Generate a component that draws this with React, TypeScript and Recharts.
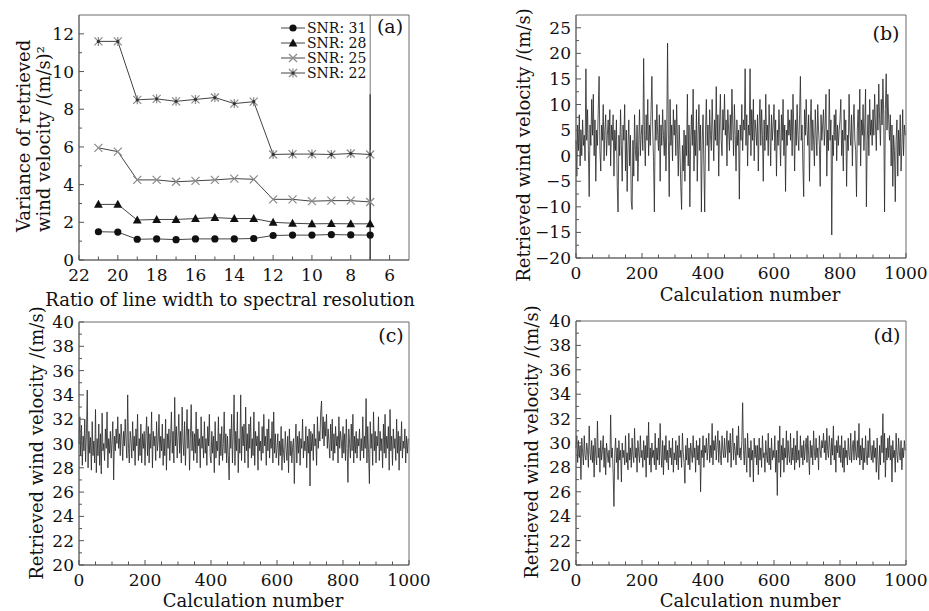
import React from 'react';
import { LineChart, Line, XAxis, YAxis, ReferenceArea, ReferenceLine } from 'recharts';

const FONT = '"DejaVu Serif", "Liberation Serif", serif';

// ---------- Panel (a) data ----------
const ratios = [21, 20, 19, 18, 17, 16, 15, 14, 13, 12, 11, 10, 9, 8, 7];
const snr31 = [1.5, 1.48, 1.1, 1.12, 1.08, 1.12, 1.12, 1.12, 1.14, 1.3, 1.32, 1.32, 1.35, 1.33, 1.32];
const snr28 = [2.95, 2.95, 2.12, 2.15, 2.15, 2.2, 2.25, 2.2, 2.2, 2.0, 1.95, 1.92, 1.93, 1.92, 1.92];
const snr25 = [5.95, 5.75, 4.25, 4.25, 4.15, 4.2, 4.25, 4.32, 4.28, 3.22, 3.22, 3.12, 3.15, 3.15, 3.08];
const snr22 = [11.6, 11.6, 8.5, 8.55, 8.42, 8.52, 8.62, 8.3, 8.4, 5.6, 5.62, 5.62, 5.6, 5.65, 5.6];
const legendLabels = ['SNR: 31', 'SNR: 28', 'SNR: 25', 'SNR: 22'];
const ratioTicks = [22, 21, 20, 19, 18, 17, 16, 15, 14, 13, 12, 11, 10, 9, 8, 7, 6];
const varianceTicks = [0, 1, 2, 3, 4, 5, 6, 7, 8, 9, 10, 11, 12];

// ---------- Panels (b)(c)(d): one value read every 2.5 calculation numbers ----------
const windB = [
  3, -4, 6, 1, 8, -2, 5, 0, 7, 2, 4, -1, 17, 3, 9, 1, -8, 6, 2, 11,
  4, 12, 0, 7, -5, 5, 2, 9, 15.5, 1, -3, 6, 3, 10, -1, 5, 8, 0, 4, 7,
  2, 9, -2, 6, 3, 8, -4, 5, 1, 7, -6, -11, 4, 0, 9, 2, -5, 6, 3, 10,
  -3, 5, -7, 2, 7, -2, 4, -9, -10.5, 3, -4, 8, 1, -1, 6, -5, 2, 9, 0, 4,
  6, 1, 19, 4, -2, 8, 3, 11, 0, 6, 2, 9, 15.5, 5, -1, -11, 7, 3, 10, 4,
  1, 8, -5, 6, 2, 9, 4, 0, 7, -3, 5, 22, 3, -8, 11, 2, 6, -1, 9, 4,
  7, 0, 10, 3, -4, 6, 1, -6, -10.5, 2, -3, 5, -5, 4, 0, 12, -2, 6, -10, 3,
  8, 2, 13, -3, 5, 0, 9, -5, 4, 10, 1, 6, -11, 3, 8, -2, -11, 5, 11, 2,
  6, -3, 9, 4, 1, 11, 5, -1, 7, 3, 13.5, 2, 8, -4, 6, 12, 3, 0, 9, 5,
  12, 4, 7, -2, 9, 5, 1, 8, 3, 13, 6, 0, 10, 4, -3, 7, 2, 5, -8.5, 6,
  3, 10, 1, 7, 5, 17, 2, 8, -2, 6, 4, 17, 0, 9, 3, 11, -1, 7, 5, 2,
  8, -3, 6, 11, 2, 9, 4, -5, 7, 1, 12, 3, 6, 0, 10, 5, -2, 8, 3, 6,
  10, 1, 7, -4, 5, 2, 9, 4, -2, 8, 3, 11, 0, 6, -7, 5, 2, 9, 4, 7,
  3, 9, 0, 12, 5, -3, 7, 2, 10, 4, 1, 8, 15.5, 3, 6, -2, -8, 9, 4, 11,
  5, 2, 8, -5, 6, 11, 1, 7, 3, -2, 9, 4, 0, 10, 5, 2, -6, 8, 3, 6,
  9, 2, 6, 12, -4, 5, 1, 13, 3, 7, -15.5, 4, 0, 8, 3, 9, -1, 6, 2, 5,
  7, 11, 0, 5, -3, 9, 3, 7, -6, 4, 1, 12, 5, 2, 8, -2, 6, 10, 3, 1,
  -8, 5, 9, 2, 13, -2, 7, 4, 10, 1, 6, 13, -10, 3, 8, 0, 11, 4, 7, 2,
  9, 4, 12, 6, 1, 10, 5, 14, 7, 2, 11, 6, 15, 8, -11, 9, 16, 5, 12, 7,
  3, 8, -2, 6, -6, 4, 1, -9, 3, 7, -4, 5, 0, 8, -3, 2, 9, 0, 6, 4,
];
const windC = [
  30, 32.2, 29, 31.5, 28.2, 30.6, 29.4, 32, 28.5, 30.8, 34.4, 28, 31, 29.2, 30.5, 27.8, 31.8, 29, 30.2, 28.4,
  32.8, 27.6, 30.4, 29, 31.6, 28.2, 30.8, 27.5, 32.5, 29.4, 30, 28.6, 31.2, 29.6, 32.6, 28, 30.4, 29.2, 31, 28.8,
  30.2, 31.8, 27, 30.6, 29.4, 31.2, 30, 32.2, 29.6, 30.8, 29, 31.6, 30.4, 28.6, 31, 29.8, 32, 30.2, 28.8, 34,
  29.6, 28.4, 31, 30.2, 28.8, 31.8, 29.4, 30.6, 28.2, 31.2, 29.8, 32.4, 28.6, 30.4, 29, 31.6, 28.4, 30.8, 29.6, 31,
  28.2, 30.6, 32.2, 29, 31.4, 28.4, 30.8, 29.6, 32.6, 28, 31, 29.8, 30.6, 28.6, 31.8, 29.4, 30.2, 32.4, 28.8, 30.6,
  29.4, 31.6, 28.2, 30.4, 29, 32, 27.8, 30.8, 29.6, 31.2, 28.6, 30.4, 32.6, 29.2, 31, 28.4, 33.8, 29.8, 31.4, 28.8,
  30.6, 32.4, 29.2, 31, 28.4, 33, 30.2, 29, 31.8, 28.2, 30.6, 32.8, 29.6, 31.2, 27.8, 30.4, 33.2, 29.4, 31, 28.6,
  30.8, 29.2, 32.6, 28.4, 31.2, 29.8, 30.4, 28, 32.2, 29.6, 30.6, 28.8, 31.8, 29.2, 30.4, 28.2, 31.4, 29.8, 32.4, 29,
  28.4, 31, 29.2, 30.6, 27.6, 31.8, 28.8, 30.2, 29.4, 32.2, 28.2, 30.8, 29, 31.4, 28.6, 30, 32.6, 29.2, 30.8, 28.4,
  30.6, 29, 27, 31.2, 29.6, 32.4, 28.4, 30.8, 34, 28.2, 31, 29.4, 32.6, 27.6, 30.4, 29.2, 34, 28.6, 31.4, 29.8,
  31.6, 28.4, 33, 29.4, 30.8, 28, 31.6, 29.6, 32.2, 28.8, 30.4, 29, 32.6, 28.2, 31, 29.8, 30.6, 27.8, 31.8, 29.4,
  30.2, 28.6, 31.4, 29.2, 32.4, 29.8, 30.6, 28.2, 31.2, 29.4, 32, 28.8, 30.4, 29.6, 31.8, 28.4, 32.6, 29.2, 30.8, 28.8,
  29.6, 30.8, 28.2, 30.2, 29, 31.4, 27.8, 30.4, 29.2, 28.4, 31, 29.6, 28.6, 30.6, 27.6, 31.2, 29, 30.2, 28.4, 29.8,
  30.4, 26.7, 30, 31.6, 28.4, 30.6, 29.2, 31, 28.2, 30.4, 29.6, 32, 28.8, 30.2, 29.4, 31.4, 28, 30.6, 29.2, 31.2,
  26.5, 31, 29.4, 30.8, 28.6, 31.6, 29.8, 30.4, 28.2, 32.2, 29.6, 31, 30.2, 32.6, 33.5, 30.4, 32.2, 29.8, 31.8, 30.6,
  32.4, 29.6, 31.2, 30, 28.8, 31.6, 29.4, 32, 28.6, 30.8, 29.2, 31.4, 29.8, 30.6, 28.4, 32.2, 29.6, 31, 30.2, 28.8,
  31.4, 29.2, 30.8, 28.6, 32, 29.6, 26.8, 31.2, 30, 28.8, 31.6, 29.4, 32.4, 28.4, 30.6, 29.2, 31, 28.8, 30.4, 29.8,
  31.2, 28.6, 30.4, 29.4, 32.2, 28.8, 30.6, 29.6, 33.7, 28.4, 31.4, 29.2, 26.7, 31.8, 29.6, 30.8, 28.2, 32.6, 29.4, 31,
  28.4, 30.6, 29.8, 32.2, 28.6, 31, 29.4, 30.4, 28, 31.6, 29.2, 32.4, 28.8, 30.6, 29.6, 31.4, 27.8, 32.8, 29.4, 30.6,
  28.2, 31.2, 29.6, 30.4, 28.6, 32, 29.2, 31, 27.8, 30.6, 29.4, 31.8, 28.8, 30.2, 29.6, 31.2, 28.4, 30.6, 29.2, 30.4,
];
const windD = [
  29.6, 30.6, 28.4, 30.2, 28.8, 29.8, 27, 30.4, 29.2, 28.2, 30.6, 29, 28.6, 30, 29.4, 28, 31.4, 29.2, 28.6, 30.2,
  28.4, 29.8, 27.2, 30.4, 29, 28.2, 31.8, 28.8, 29.6, 27.6, 30.2, 28.6, 29.4, 30.6, 28, 29.6, 27.4, 30, 29.2, 28.4,
  29.4, 28, 32.3, 28.8, 29.6, 27.6, 24.8, 29.2, 30.4, 28.4, 29.6, 27, 30.2, 28.6, 29.4, 26.8, 30, 28.8, 29.4, 28.2,
  30.6, 28.4, 29.2, 27.8, 30.8, 28.6, 29.6, 28, 30.4, 29, 28.4, 31.2, 28.8, 29.6, 27.6, 30.2, 29.2, 28.4, 30.6, 28.8,
  29.4, 28, 30.2, 28.6, 29.8, 27.2, 30.6, 28.8, 31.7, 28.2, 29.6, 27.6, 30, 28.8, 29.4, 28.2, 30.8, 27.8, 29.6, 28.6,
  30.4, 28.2, 31.6, 29.2, 28, 30.2, 27.4, 29.8, 28.6, 30.6, 28.4, 29.4, 27.8, 30.2, 28.8, 29.6, 28.2, 30.4, 27.6, 29.2,
  28.6, 30.2, 28.2, 29.8, 27.8, 30.6, 28.8, 29.4, 28, 30.8, 29.2, 28.4, 26.7, 29.8, 28.6, 30.4, 28.2, 29.6, 27.8, 30,
  29.2, 28.4, 30.6, 28.8, 29.6, 27.6, 30.2, 28.6, 29.8, 28.2, 30.4, 26, 29.4, 28.8, 30.6, 28, 29.8, 29.2, 30.4, 28.6,
  29.6, 30.8, 28.4, 29.8, 28.8, 31.6, 28.2, 30.2, 29.4, 30.6, 28.6, 29.8, 31, 28.4, 30.2, 29, 28.2, 30.6, 29.4, 28.8,
  30.4, 28.8, 29.6, 31, 28.4, 30.2, 29.2, 30.8, 28, 29.8, 31.2, 28.6, 30, 29.4, 28.2, 30.6, 29, 31.4, 28.8, 29.6,
  28.6, 30.2, 33.3, 29.4, 28.2, 30.4, 29, 27.6, 30.8, 28.8, 29.6, 27.2, 30.2, 28.6, 29.4, 26.8, 30.4, 28.8, 29.8, 28.2,
  29.8, 27.4, 30.4, 28.6, 29.6, 28, 30.6, 28.8, 29.2, 27.6, 30.2, 29, 28.4, 30.8, 28.2, 29.6, 27.8, 30.4, 28.6, 29.4,
  28.8, 30.6, 27.6, 29.4, 25.7, 30.2, 28.4, 31.4, 27.2, 29.8, 28.6, 30.4, 27.6, 29.6, 28.8, 31, 28.2, 30.2, 29, 28.4,
  30.8, 28.2, 29.6, 28.6, 30.4, 27.8, 29.8, 28.4, 31, 28.6, 29.4, 28, 30.6, 28.8, 29.8, 28.2, 30.2, 28.6, 29.6, 30.4,
  28.4, 30.6, 29, 27.4, 30.2, 28.8, 29.8, 28.2, 31, 29.2, 28.6, 30.4, 28.8, 29.6, 27.8, 30.6, 29.4, 28.8, 30.2, 29.6,
  30.8, 29.2, 30.2, 28.6, 31.2, 29.4, 28.8, 30.6, 29.6, 28.2, 30.4, 29, 31.4, 28.6, 29.8, 27.6, 30.2, 29.2, 30.6, 28.8,
  29.8, 28.4, 30.6, 28, 29.6, 27.6, 30.2, 28.8, 29.4, 28.2, 30.4, 29, 28.6, 30.8, 28.4, 29.6, 30.2, 28.6, 31, 29.2,
  28.6, 30.2, 28.8, 31.6, 28.2, 29.8, 28.6, 30.4, 27.8, 29.6, 28.4, 30.6, 29, 28.2, 30.2, 28.8, 31.2, 29.4, 28.6, 29.8,
  28.4, 30.2, 28.8, 29.6, 27.6, 30.4, 28.6, 27, 29.8, 28.2, 30.6, 29.2, 32.4, 28.4, 30.8, 27.2, 29.6, 28.6, 30.4, 28.8,
  30.6, 28.6, 29.8, 26.8, 30.2, 28.8, 29.4, 27.6, 30.8, 29, 28.4, 30.4, 29.2, 28.6, 30.2, 27.8, 29.6, 28.8, 30.2, 29.4,
];
const calcStep = 2.5;
const calcTicks = [0, 50, 100, 150, 200, 250, 300, 350, 400, 450, 500, 550, 600, 650, 700, 750, 800, 850, 900, 950, 1000];
const calcLabels = [0, 200, 400, 600, 800, 1000];
const windTicksB = [-20, -17.5, -15, -12.5, -10, -7.5, -5, -2.5, 0, 2.5, 5, 7.5, 10, 12.5, 15, 17.5, 20, 22.5, 25];
const windTicksCD = [20, 21, 22, 23, 24, 25, 26, 27, 28, 29, 30, 31, 32, 33, 34, 35, 36, 37, 38, 39, 40];

const aRows = ratios.map((r, i) => ({ r, s31: snr31[i], s28: snr28[i], s25: snr25[i], s22: snr22[i] }));
const toRows = (vals: number[]) => vals.map((v, i) => ({ n: i * calcStep, v }));
const bRows = toRows(windB);
const cRows = toRows(windC);
const dRows = toRows(windD);

const fmt = (v: number) => (v < 0 ? '\u2212' + Math.abs(v) : String(v));
const TICK_FS = 17;
const FRAME = '#6a6a6a';

function makeYTick(plotLeft: number, isMajor: (v: number) => boolean) {
  return (props: any) => {
    const { y, payload } = props;
    const v = payload.value;
    const major = isMajor(v);
    return (
      <g>
        <line x1={plotLeft} x2={plotLeft + (major ? 5 : 3)} y1={y} y2={y} stroke="#555" strokeWidth={1} />
        {major && (
          <text x={plotLeft - 5} y={y} textAnchor="end" dominantBaseline="central" fontFamily={FONT} fontSize={TICK_FS} fill="#111">
            {fmt(v)}
          </text>
        )}
      </g>
    );
  };
}

function makeXTick(plotBottom: number, isMajor: (v: number) => boolean) {
  return (props: any) => {
    const { x, payload } = props;
    const v = payload.value;
    const major = isMajor(v);
    return (
      <g>
        <line x1={x} x2={x} y1={plotBottom} y2={plotBottom - (major ? 5 : 3.5)} stroke="#555" strokeWidth={1} />
        {major && (
          <text x={x} y={plotBottom + 15} textAnchor="middle" dominantBaseline="central" fontFamily={FONT} fontSize={TICK_FS} fill="#111">
            {fmt(v)}
          </text>
        )}
      </g>
    );
  };
}

const Circle = ({ cx, cy }: any) => <circle cx={cx} cy={cy} r={3.6} fill="#111" />;
const Tri = ({ cx, cy }: any) => (
  <polygon points={`${cx},${cy - 4.6} ${cx - 4.4},${cy + 3.4} ${cx + 4.4},${cy + 3.4}`} fill="#111" />
);
const Cross = ({ cx, cy }: any) => (
  <path d={`M${cx - 4},${cy - 4}L${cx + 4},${cy + 4}M${cx - 4},${cy + 4}L${cx + 4},${cy - 4}`} stroke="#8a8a8a" strokeWidth={1.2} fill="none" />
);
const Star = ({ cx, cy }: any) => (
  <g>
    <path
      d={`M${cx - 4},${cy - 4}L${cx + 4},${cy + 4}M${cx - 4},${cy + 4}L${cx + 4},${cy - 4}M${cx},${cy - 4.5}L${cx},${cy + 4.5}`}
      stroke="#8a8a8a"
      strokeWidth={1.2}
      fill="none"
    />
    <circle cx={cx} cy={cy} r={1.6} fill="#333" />
  </g>
);
const markers = [Circle, Tri, Cross, Star];
const seriesKeys = ['s31', 's28', 's25', 's22'];

const dotFor = (M: any) => (p: any) => <M key={`m-${p.index}`} cx={p.cx} cy={p.cy} />;

function NoisePanel({ rows, left, top, width, height, yAxisW, mTop, mRight, xAxisH, domain, ticks, majorY }: any) {
  const plotBottom = height - xAxisH;
  return (
    <div style={{ position: 'absolute', left, top, width, height }}>
      <LineChart width={width} height={height} data={rows} margin={{ top: mTop, right: mRight, bottom: 0, left: 0 }}>
        <XAxis
          dataKey="n"
          type="number"
          domain={[0, 1000]}
          ticks={calcTicks}
          interval={0}
          height={xAxisH}
          tickLine={false}
          axisLine={{ stroke: FRAME }}
          tick={makeXTick(plotBottom, (v) => calcLabels.includes(v))}
        />
        <YAxis
          type="number"
          domain={domain}
          ticks={ticks}
          interval={0}
          width={yAxisW}
          tickLine={false}
          axisLine={{ stroke: FRAME }}
          allowDataOverflow
          tick={makeYTick(yAxisW, majorY)}
        />
        <ReferenceArea x1={0} x2={1000} y1={domain[0]} y2={domain[1]} fill="none" fillOpacity={0} stroke={FRAME} strokeWidth={1} />
        <Line dataKey="v" type="linear" stroke="#262626" strokeWidth={0.8} dot={false} isAnimationActive={false} />
      </LineChart>
    </div>
  );
}

export default function App() {
  const legendY = [28, 43, 58, 73];
  return (
    <div style={{ position: 'absolute', left: 0, top: 0, width: 929, height: 611, background: '#fff', fontFamily: FONT }}>
      {/* Panel (a) */}
      <div style={{ position: 'absolute', left: 0, top: 0, width: 420, height: 300 }}>
        <LineChart width={420} height={300} data={aRows} margin={{ top: 15, right: 11, bottom: 0, left: 0 }}>
          <XAxis
            dataKey="r"
            type="number"
            domain={[5, 22]}
            reversed
            ticks={ratioTicks}
            interval={0}
            height={40}
            tickLine={false}
            axisLine={{ stroke: FRAME }}
            tick={makeXTick(260, (v) => v % 2 === 0)}
          />
          <YAxis
            type="number"
            domain={[0, 13]}
            ticks={varianceTicks}
            interval={0}
            width={79}
            tickLine={false}
            axisLine={{ stroke: FRAME }}
            tick={makeYTick(79, (v) => v % 2 === 0)}
          />
          <ReferenceArea x1={5} x2={22} y1={0} y2={13} fill="none" fillOpacity={0} stroke={FRAME} strokeWidth={1} />
          <ReferenceLine x={7} stroke="#777" strokeWidth={1} />
          <ReferenceLine segment={[{ x: 7, y: 0 }, { x: 7, y: 8.8 }]} stroke="#333" strokeWidth={1.2} />
          {seriesKeys.map((k, i) => (
            <Line
              key={k}
              dataKey={k}
              type="linear"
              stroke="#444"
              strokeWidth={1}
              dot={dotFor(markers[i])}
              activeDot={false}
              isAnimationActive={false}
            />
          ))}
        </LineChart>
      </div>

      <NoisePanel rows={bRows} left={490} top={0} width={439} height={300} yAxisW={86} mTop={15} mRight={23} xAxisH={42}
        domain={[-20, 27.5]} ticks={windTicksB} majorY={(v: number) => v % 5 === 0} />
      <NoisePanel rows={cRows} left={0} top={300} width={440} height={300} yAxisW={79} mTop={22} mRight={31} xAxisH={35}
        domain={[20, 40]} ticks={windTicksCD} majorY={(v: number) => v % 2 === 0} />
      <NoisePanel rows={dRows} left={490} top={300} width={439} height={300} yAxisW={86} mTop={21} mRight={23} xAxisH={35}
        domain={[20, 40]} ticks={windTicksCD} majorY={(v: number) => v % 2 === 0} />

      {/* Titles, panel labels and legend */}
      <svg width={929} height={611} style={{ position: 'absolute', left: 0, top: 0, pointerEvents: 'none' }} fontFamily={FONT} fill="#111">
        <g fontSize={18} textAnchor="middle" dominantBaseline="central">
          <text x={230} y={299}>Ratio of line width to spectral resolution</text>
          <text x={750} y={294}>Calculation number</text>
          <text x={253} y={600}>Calculation number</text>
          <text x={750} y={600}>Calculation number</text>
          <text transform="translate(23,232) rotate(-90)" textAnchor="start">Variance of retrieved</text>
          <text transform="translate(43,232) rotate(-90)" textAnchor="start">wind velocity /(m/s)²</text>
          <text transform="translate(523,145) rotate(-90)">Retrieved wind velocity /(m/s)</text>
          <text transform="translate(36,443) rotate(-90)">Retrieved wind velocity /(m/s)</text>
          <text transform="translate(531,442) rotate(-90)">Retrieved wind velocity /(m/s)</text>
          <text x={390} y={26} fontSize={19}>(a)</text>
          <text x={886} y={33} fontSize={19}>(b)</text>
          <text x={391} y={335} fontSize={19}>(c)</text>
          <text x={887} y={335} fontSize={19}>(d)</text>
        </g>
        {legendLabels.map((lab, i) => {
          const M = markers[i];
          const y = legendY[i];
          return (
            <g key={lab}>
              <line x1={281} x2={305} y1={y} y2={y} stroke="#444" strokeWidth={1} />
              <M cx={293} cy={y} />
              <text x={307} y={y} fontSize={14} dominantBaseline="central">{lab}</text>
            </g>
          );
        })}
      </svg>
    </div>
  );
}
